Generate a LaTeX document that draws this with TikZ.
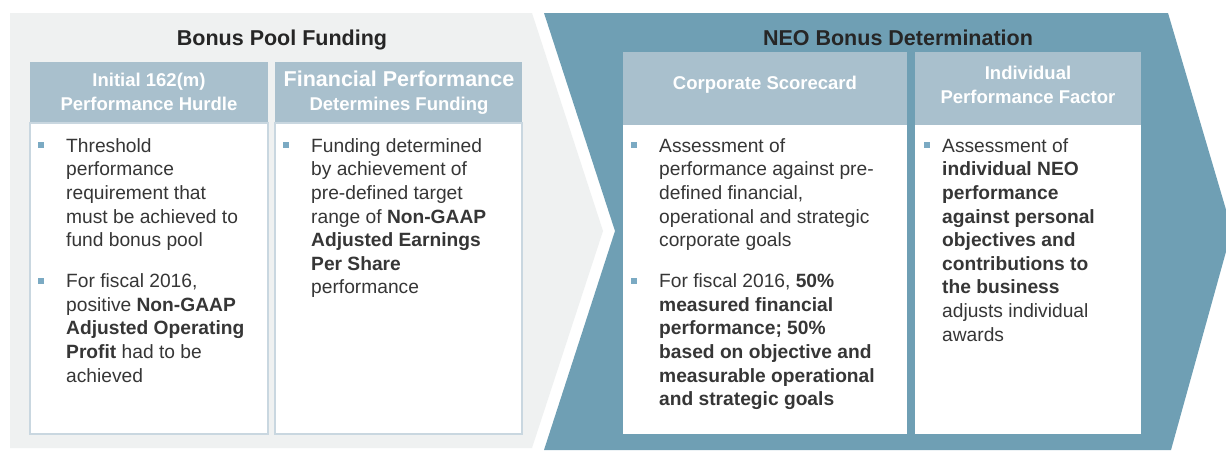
\documentclass[tikz,border=0pt]{standalone}
\usepackage{fontspec}
\setmainfont{Liberation Sans}
\definecolor{panelgray}{HTML}{EFF1F1}
\definecolor{panelblue}{HTML}{6F9FB4}
\definecolor{headblue}{HTML}{A9C0CD}
\definecolor{bulletblue}{HTML}{7BAAC3}
\definecolor{boxline}{HTML}{C9D7E0}
\definecolor{txt}{HTML}{363636}
\begin{document}
\begin{tikzpicture}[x=1pt,y=-1pt,
  paneltitle/.style={font=\fontsize{21.5}{26}\selectfont\bfseries, text=black!85, inner sep=0},
  headtxt/.style={font=\fontsize{18.5}{24}\selectfont\bfseries, text=white, align=center, inner sep=0},
  bodytxt/.style={font=\fontsize{19.2}{23.6}\selectfont, text=txt, align=left, anchor=north west, inner sep=0},
  bul/.style={fill=bulletblue, minimum size=5.5pt, inner sep=0},
  headbox/.style={fill=headblue},
  graybody/.style={fill=white, draw=boxline, line width=1.2pt},
  bluebody/.style={fill=white},
  ]
\useasboundingbox (0,0) rectangle (1226,450);
\fill[white] (0,0) rectangle (1226,450);
% panels
\fill[panelgray] (10,13) -- (532,13) -- (603,231) -- (532,448) -- (10,448) -- cycle;
\fill[panelblue] (544,13) -- (1168,13) -- (1232,230) -- (1171,450) -- (544,450) -- (615,231) -- cycle;
% boxes
\fill[headbox] (30,62) rectangle (268,123);
\filldraw[graybody] (30,123) rectangle (268,434);
\fill[headbox] (275,62) rectangle (522,123);
\filldraw[graybody] (275,123) rectangle (522,434);
\fill[headbox] (623,52) rectangle (907,125);
\fill[bluebody] (623,125) rectangle (907,434);
\fill[headbox] (915,52) rectangle (1141,125);
\fill[bluebody] (915,125) rectangle (1141,434);
% titles
\node[paneltitle] (t1) at (282,40) {Bonus Pool Funding};
\node[paneltitle] (t2) at (898,38) {NEO Bonus Determination};
% headers
\node[headtxt] (h1) at (149,92) {Initial 162(m)\\Performance Hurdle};
\node[headtxt] (h2) at (399,93) {{\fontsize{21.5}{24}\selectfont Financial Performance}\\Determines Funding};
\node[headtxt] (h3) at (765,85) {Corporate Scorecard};
\node[headtxt] (h4) at (1028,85) {Individual\\Performance Factor};
% bullets
\node[bul] (b1a) at (41,145) {};
\node[bul] (b1b) at (41,281) {};
\node[bul] (b2a) at (286,145) {};
\node[bul] (b3a) at (634,145) {};
\node[bul] (b3b) at (634,281) {};
\node[bul] (b4a) at (927,145) {};
% body texts
\node[bodytxt] (x1a) at (66,135.5) {\strut Threshold\\performance\\requirement that\\must be achieved to\\fund bonus pool};
\node[bodytxt] (x1b) at (66,271) {\strut For fiscal 2016,\\positive \textbf{Non-GAAP}\\\textbf{Adjusted Operating}\\\textbf{Profit} had to be\\achieved};
\node[bodytxt] (x2a) at (311,135.5) {\strut Funding determined\\by achievement of\\pre-defined target\\range of \textbf{Non-GAAP}\\\textbf{Adjusted Earnings}\\\textbf{Per Share}\\performance};
\node[bodytxt] (x3a) at (659,135.5) {\strut Assessment of\\performance against pre-\\defined financial,\\operational and strategic\\corporate goals};
\node[bodytxt] (x3b) at (659,271) {\strut For fiscal 2016, \textbf{50\%}\\\textbf{measured financial}\\\textbf{performance; 50\%}\\\textbf{based on objective and}\\\textbf{measurable operational}\\\textbf{and strategic goals}};
\node[bodytxt] (x4a) at (942,135.5) {\strut Assessment of\\\textbf{individual NEO}\\\textbf{performance}\\\textbf{against personal}\\\textbf{objectives and}\\\textbf{contributions to}\\\textbf{the business}\\adjusts individual\\awards};
\end{tikzpicture}
\end{document}
